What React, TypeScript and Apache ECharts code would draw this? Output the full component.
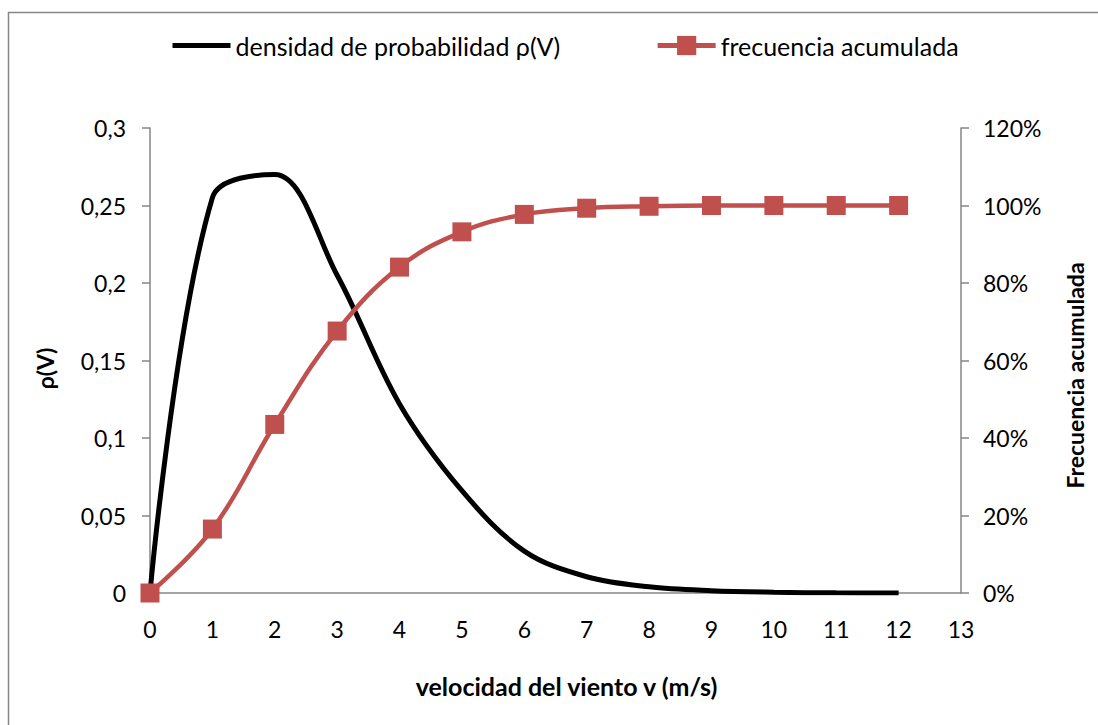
import React, { useEffect, useRef } from "react";
import * as echarts from "echarts";

const speeds = [0, 1, 2, 3, 4, 5, 6, 7, 8, 9, 10, 11, 12];
const density = [0, 0.255, 0.27, 0.205, 0.122, 0.066, 0.027, 0.0105, 0.004, 0.0015, 0.0005, 0.0001, 0];
const cumulative = [0, 0.165, 0.435, 0.676, 0.841, 0.932, 0.977, 0.993, 0.998, 1, 1, 1, 1];

const densityName = "densidad de probabilidad ρ(V)";
const cumulativeName = "frecuencia acumulada";
const xTitle = "velocidad del viento v (m/s)";
const yLeftTitle = "ρ(V)";
const yRightTitle = "Frecuencia acumulada";

const FONT = "Lato, 'Open Sans', sans-serif";
const AXIS_GRAY = "#868686";
const RED = "#C0504D";

export default function App() {
  const ref = useRef<HTMLDivElement>(null);

  useEffect(() => {
    if (!ref.current) return;
    const chart = echarts.init(ref.current, null, { renderer: "svg" });
    const densityData = speeds.map((v, i) => [v, density[i]]);
    const cumulativeData = speeds.map((v, i) => [v, cumulative[i]]);

    chart.setOption({
      animation: false,
      backgroundColor: "#ffffff",
      textStyle: { fontFamily: FONT },
      graphic: [
        {
          type: "rect",
          shape: { x: 8.5, y: 12.5, width: 1100, height: 720 },
          style: { fill: "none", stroke: AXIS_GRAY, lineWidth: 1.5 },
          silent: true,
        },
      ],
      legend: {
        top: 33,
        left: 170,
        padding: 0,
        itemWidth: 58,
        itemHeight: 24,
        itemGap: 95,
        lineStyle: { width: 5 },
        textStyle: { fontFamily: FONT, fontSize: 25, color: "#000" },
        data: [
          { name: densityName, itemStyle: { opacity: 0 } },
          { name: cumulativeName },
        ],
      },
      grid: { left: 150, right: 137, top: 128, bottom: 132, containLabel: false },
      xAxis: {
        type: "value",
        min: 0,
        max: 13,
        interval: 1,
        name: xTitle,
        nameLocation: "middle",
        nameGap: 80,
        nameTextStyle: { fontFamily: FONT, fontSize: 25, fontWeight: "bold", color: "#000", padding: [0, 0, 0, 22] },
        axisLine: { show: true, onZero: false, lineStyle: { color: AXIS_GRAY, width: 1.5 } },
        axisTick: { show: false },
        splitLine: { show: false },
        axisLabel: { margin: 24, fontFamily: FONT, fontSize: 23, color: "#000" },
      },
      yAxis: [
        {
          type: "value",
          min: 0,
          max: 0.3,
          interval: 0.05,
          position: "left",
          name: yLeftTitle,
          nameLocation: "middle",
          nameGap: 94,
          nameRotate: 90,
          nameTextStyle: { fontFamily: FONT, fontSize: 23, fontWeight: "bold", color: "#000", padding: [0, 16, 0, 0] },
          axisLine: { show: true, lineStyle: { color: AXIS_GRAY, width: 1.5 } },
          axisTick: { show: true, inside: false, length: 8, lineStyle: { color: AXIS_GRAY, width: 1.5 } },
          splitLine: { show: false },
          axisLabel: {
            margin: 24,
            fontFamily: FONT,
            fontSize: 23,
            color: "#000",
            formatter: (v: number) => String(Math.round(v * 100) / 100).replace(".", ","),
          },
        },
        {
          type: "value",
          min: 0,
          max: 1.2,
          interval: 0.2,
          position: "right",
          name: yRightTitle,
          nameLocation: "middle",
          nameGap: 102,
          nameRotate: 90,
          nameTextStyle: { fontFamily: FONT, fontSize: 23, fontWeight: "bold", color: "#000", padding: [0, 30, 0, 0] },
          axisLine: { show: true, lineStyle: { color: AXIS_GRAY, width: 1.5 } },
          axisTick: { show: true, inside: false, length: 8, lineStyle: { color: AXIS_GRAY, width: 1.5 } },
          splitLine: { show: false },
          axisLabel: {
            margin: 22,
            fontFamily: FONT,
            fontSize: 23,
            color: "#000",
            formatter: (v: number) => Math.round(v * 100) + "%",
          },
        },
      ],
      series: [
        {
          name: densityName,
          type: "line",
          yAxisIndex: 0,
          data: densityData,
          smooth: 0.35,
          showSymbol: false,
          symbol: "circle",
          lineStyle: { color: "#000", width: 5 },
          itemStyle: { color: "#000" },
          z: 2,
        },
        {
          name: cumulativeName,
          type: "line",
          yAxisIndex: 1,
          data: cumulativeData,
          smooth: 0.4,
          symbol: "rect",
          symbolSize: 19,
          lineStyle: { color: RED, width: 4.5 },
          itemStyle: { color: RED },
          z: 3,
        },
      ],
    });

    return () => chart.dispose();
  }, []);

  return (
    <div
      ref={ref}
      style={{ position: "fixed", left: 0, top: 0, width: 1098, height: 725 }}
    />
  );
}
